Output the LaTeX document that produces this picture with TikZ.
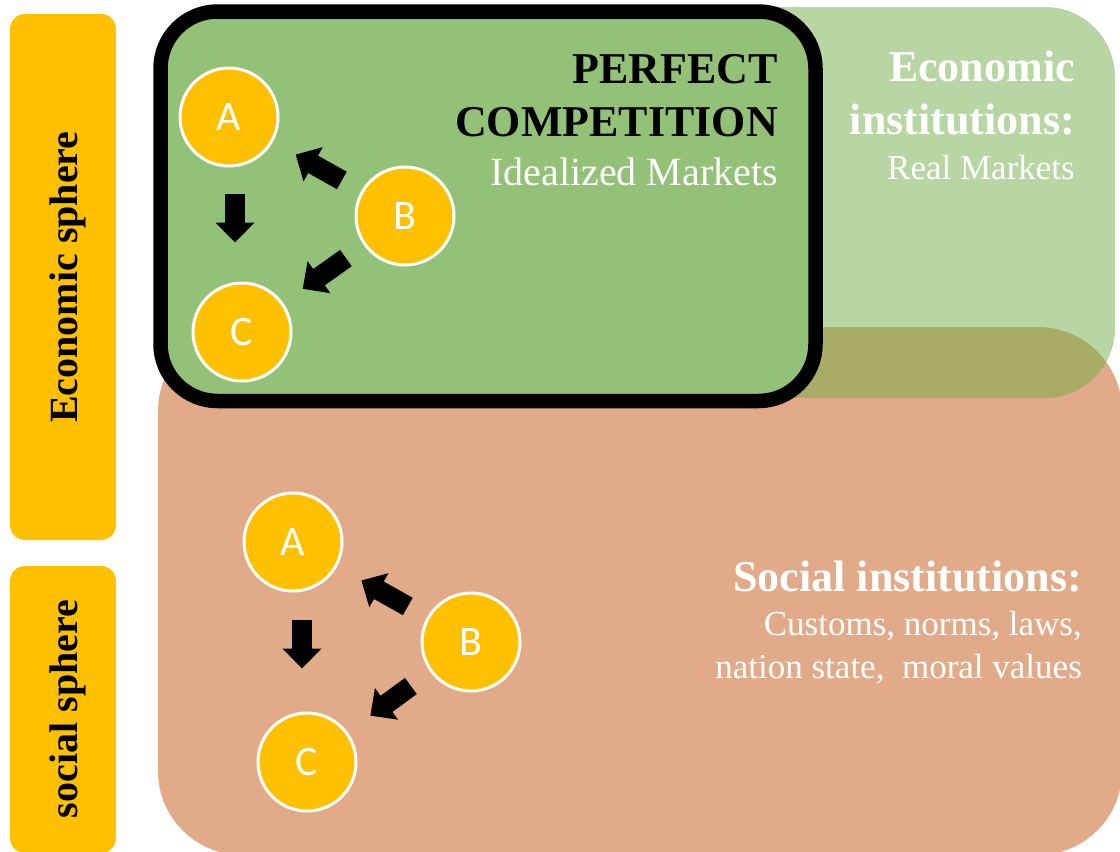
\documentclass[tikz,border=0pt]{standalone}
\usepackage{fontspec}
\setmainfont{Liberation Serif}
\newfontfamily\calib{Carlito}
\usetikzlibrary{arrows.meta}
\definecolor{amber}{HTML}{FFC000}
\definecolor{salmon}{HTML}{E1AB89}
\definecolor{grn}{HTML}{70AD47}
\definecolor{pcgreen}{HTML}{93C178}
\tikzset{
  sidebar/.style={fill=amber, draw=none, rounded corners=15pt},
  agent/.style={circle, fill=amber, draw=white, line width=3pt, minimum size=98pt, inner sep=0pt,
    font=\calib\fontsize{42}{50}\selectfont, text=white},
  blockarrow/.style={line width=20pt, -{Triangle[length=20pt,width=38pt]}},
  boldtext/.style={font=\bfseries\fontsize{44}{53}\selectfont, inner sep=0pt, anchor=base east},
  plaintext/.style={font=\fontsize{35}{42}\selectfont, inner sep=0pt, anchor=base east, text=white},
  sidetext/.style={font=\bfseries\fontsize{40}{48}\selectfont, rotate=90, inner sep=0pt},
}
\begin{document}
\begin{tikzpicture}[x=1pt,y=-1pt]
\useasboundingbox (0,0) rectangle (1120,852);
\clip (0,0) rectangle (1120,852);
% side bars
\fill[sidebar] (10,14) rectangle (116,540);
\fill[sidebar] (10,566) rectangle (116,853);
\node[sidetext] (econsphere) at (68,277) {Economic sphere};
\node[sidetext] (socsphere) at (68,709) {social sphere};
% social institutions box
\fill[salmon, rounded corners=84pt] (158,327) rectangle (1122,855);
% economic institutions box (transparent)
\fill[grn, fill opacity=0.5, rounded corners=70pt] (160,7) rectangle (1115,398);
% perfect competition box
\draw[fill=pcgreen, line width=14.5pt, rounded corners=57pt] (160.5,11.5) rectangle (815.5,401);
% texts
\node[boldtext] (pc1) at (778,83) {PERFECT};
\node[boldtext] (pc2) at (778,136) {COMPETITION};
\node[plaintext, font=\fontsize{40}{48}\selectfont] (pc3) at (778,185) {Idealized Markets};
\node[boldtext, text=white] (ei1) at (1075,81) {Economic};
\node[boldtext, text=white] (ei2) at (1075,134) {institutions:};
\node[plaintext] (ei3) at (1075,179) {Real Markets};
\node[boldtext, text=white] (si1) at (1082,591) {Social institutions:};
\node[plaintext] (si2) at (1082,635) {Customs, norms, laws,};
\node[plaintext] (si3) at (1082,678) {nation state,\ \ moral values};
% top agents
\node[agent] (A1) at (229,117) {A};
\node[agent] (B1) at (405,216) {B};
\node[agent] (C1) at (242,332) {C};
\draw[blockarrow, shorten <=22pt, shorten >=26pt] (B1) -- (A1);
\draw[blockarrow, shorten <=22pt, shorten >=24pt] (B1) -- (C1);
\draw[blockarrow, shorten <=26pt, shorten >=39pt] ([xshift=6pt]A1.south) -- ([xshift=6pt]A1.south |- C1.north);
% bottom agents
\node[agent] (A2) at (293,542) {A};
\node[agent] (B2) at (471,642) {B};
\node[agent] (C2) at (307,762) {C};
\draw[blockarrow, shorten <=22pt, shorten >=28pt] (B2) -- (A2);
\draw[blockarrow, shorten <=24pt, shorten >=28pt] (B2) -- (C2);
\draw[blockarrow, shorten <=27pt, shorten >=43pt] ([xshift=9pt]A2.south) -- ([xshift=9pt]A2.south |- C2.north);
\end{tikzpicture}
\end{document}
